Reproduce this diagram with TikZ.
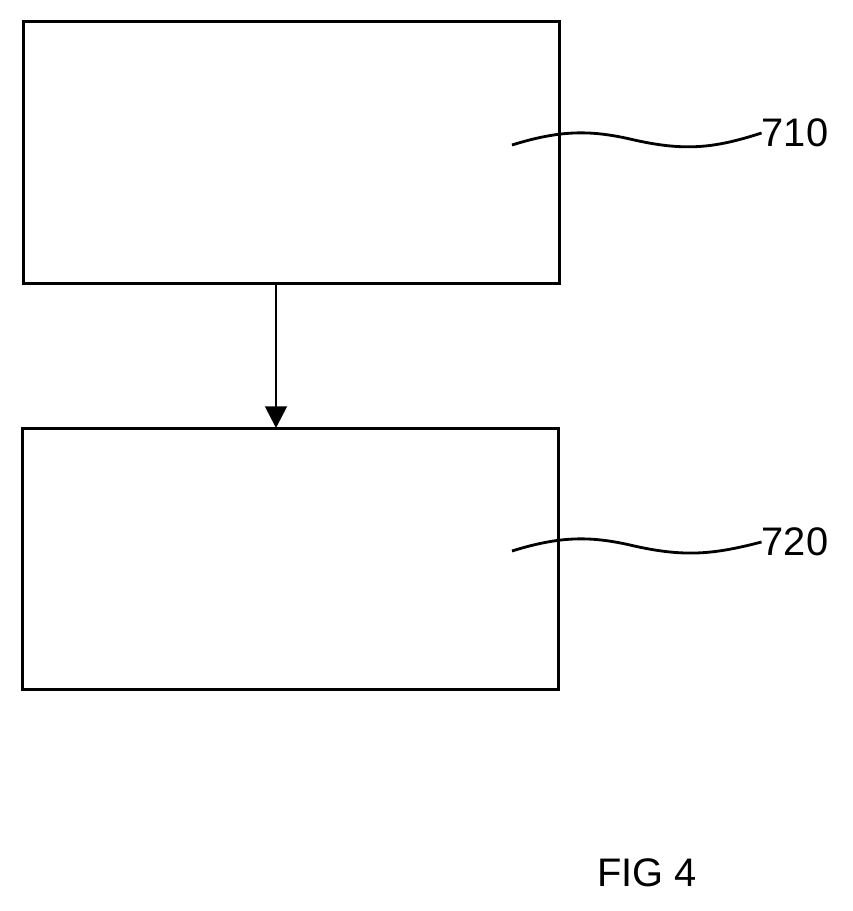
\documentclass[tikz,border=0pt]{standalone}
\usepackage{fontspec}
\setmainfont{Liberation Sans}
\usetikzlibrary{arrows.meta}
\begin{document}
\begin{tikzpicture}[x=0.03cm,y=-0.03cm]
	\useasboundingbox (0,0) rectangle (853,911);
	\tikzset{block/.style={draw=black, line width=2.4pt, minimum width=16.1cm, minimum height=7.85cm, inner sep=0pt},
		lbl/.style={font=\fontsize{34}{40}\selectfont, inner sep=0pt}}
		\node[block](first) at (291.5,152.5){};
		\node[block](second) at (290.5,559){};
		\node[lbl](lfirst) at (795,133){710};
		\node[lbl](lsecond) at (795,542){720};
		\node[lbl](fig) at (647,873){FIG 4};
		\coordinate(wfirst) at (512,145);
		\coordinate(wsecond) at (512,551);
		\draw [-{Triangle[length=0.65cm,width=0.65cm]}, line width=2.4pt] (276,284) -- (276,428);
		\draw [line width=2.4pt] (wfirst) .. controls (560,130) and (590,130) .. (630,139) .. controls (685,152) and (715,148) .. (lfirst.west);
		\draw [line width=2.4pt] (wsecond) .. controls (560,536) and (590,536) .. (630,545) .. controls (685,558) and (715,554) .. (lsecond.west);
	\end{tikzpicture}
\end{document}
